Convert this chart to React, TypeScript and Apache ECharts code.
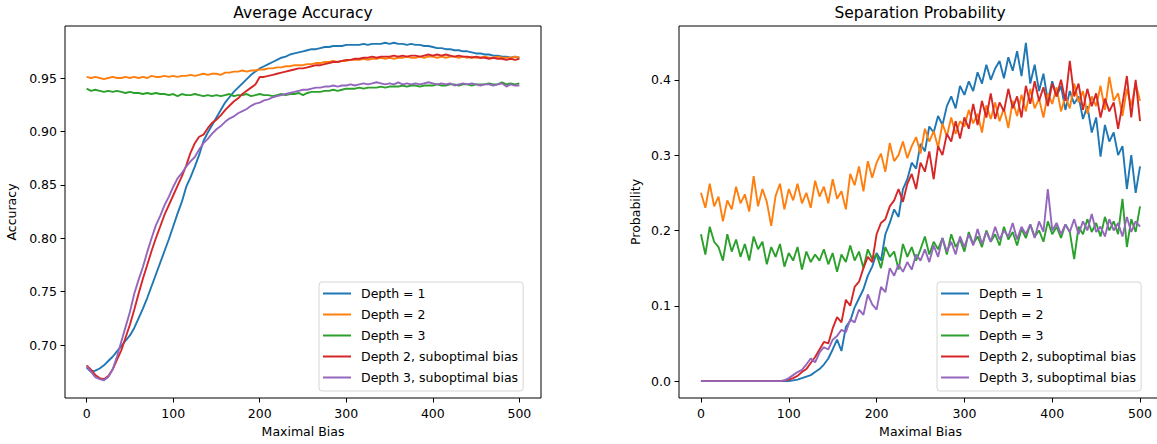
import React, { useEffect, useRef } from "react";
import * as echarts from "echarts";

const maximalBias = [
  0, 5, 10, 15, 20, 25, 30, 35, 40, 45,
  50, 55, 60, 65, 70, 75, 80, 85, 90, 95,
  100, 105, 110, 115, 120, 125, 130, 135, 140, 145,
  150, 155, 160, 165, 170, 175, 180, 185, 190, 195,
  200, 205, 210, 215, 220, 225, 230, 235, 240, 245,
  250, 255, 260, 265, 270, 275, 280, 285, 290, 295,
  300, 305, 310, 315, 320, 325, 330, 335, 340, 345,
  350, 355, 360, 365, 370, 375, 380, 385, 390, 395,
  400, 405, 410, 415, 420, 425, 430, 435, 440, 445,
  450, 455, 460, 465, 470, 475, 480, 485, 490, 495,
  500,
];

const seriesNames = [
  "Depth = 1",
  "Depth = 2",
  "Depth = 3",
  "Depth 2, suboptimal bias",
  "Depth 3, suboptimal bias",
];
const palette = ["#1f77b4", "#ff7f0e", "#2ca02c", "#d62728", "#9467bd"];

const xTicks = [0, 100, 200, 300, 400, 500];
const accuracyTicks = [0.7, 0.75, 0.8, 0.85, 0.9, 0.95];
const probabilityTicks = [0, 0.1, 0.2, 0.3, 0.4];

// ---------- Average Accuracy ----------
const accDepth1 = [
  0.679, 0.675, 0.676, 0.678, 0.681, 0.685, 0.689, 0.694, 0.699, 0.704,
  0.709, 0.716, 0.725, 0.734, 0.744, 0.755, 0.766, 0.777, 0.788, 0.799,
  0.811, 0.823, 0.834, 0.848, 0.857, 0.867, 0.878, 0.891, 0.899, 0.906,
  0.913, 0.92, 0.927, 0.932, 0.937, 0.941, 0.945, 0.949, 0.953, 0.956,
  0.959, 0.961, 0.963, 0.965, 0.967, 0.969, 0.97, 0.972, 0.973, 0.974,
  0.975, 0.976, 0.977, 0.977, 0.978, 0.979, 0.979, 0.98, 0.98, 0.98,
  0.981, 0.981, 0.981, 0.981, 0.982, 0.981, 0.982, 0.982, 0.982, 0.983,
  0.982, 0.983, 0.982, 0.982, 0.981, 0.982, 0.981, 0.981, 0.98, 0.98,
  0.979, 0.978, 0.978, 0.977, 0.977, 0.976, 0.976, 0.975, 0.975, 0.974,
  0.973, 0.973, 0.972, 0.972, 0.971, 0.971, 0.97, 0.97, 0.969, 0.97,
  0.969,
];
const accDepth2 = [
  0.951, 0.95, 0.951, 0.95, 0.949, 0.95, 0.951, 0.95, 0.95, 0.951,
  0.95, 0.951, 0.95, 0.951, 0.95, 0.952, 0.951, 0.951, 0.952, 0.951,
  0.952, 0.951, 0.952, 0.952, 0.953, 0.952, 0.953, 0.954, 0.953, 0.954,
  0.954, 0.953, 0.955, 0.955, 0.956, 0.956, 0.957, 0.956, 0.957, 0.957,
  0.958, 0.958, 0.959, 0.959, 0.96, 0.96, 0.961, 0.961, 0.962, 0.962,
  0.962, 0.963, 0.963, 0.964, 0.964, 0.965, 0.965, 0.966, 0.965, 0.966,
  0.966, 0.967, 0.967, 0.967, 0.968, 0.967, 0.968, 0.968, 0.969, 0.968,
  0.969, 0.968, 0.969, 0.969, 0.97, 0.969, 0.969, 0.97, 0.969, 0.97,
  0.97, 0.969, 0.97, 0.969, 0.97, 0.97, 0.969, 0.97, 0.969, 0.97,
  0.969, 0.969, 0.97, 0.969, 0.969, 0.97, 0.969, 0.969, 0.969, 0.97,
  0.969,
];
const accDepth3 = [
  0.94, 0.938, 0.939, 0.938, 0.937, 0.938, 0.937, 0.938, 0.937, 0.936,
  0.937, 0.936, 0.936, 0.935, 0.936, 0.935, 0.936, 0.935, 0.935, 0.934,
  0.935, 0.933, 0.935, 0.934, 0.934, 0.935, 0.934, 0.933, 0.934, 0.933,
  0.934, 0.933, 0.934, 0.935, 0.933, 0.934, 0.934, 0.935, 0.933, 0.934,
  0.935, 0.934, 0.934, 0.933, 0.934, 0.935, 0.934, 0.935, 0.935, 0.936,
  0.934, 0.936, 0.937, 0.937, 0.937, 0.938, 0.938, 0.939, 0.938, 0.939,
  0.94, 0.94, 0.94, 0.941, 0.94, 0.941, 0.941, 0.941, 0.942, 0.941,
  0.942, 0.942, 0.942, 0.943, 0.942, 0.943, 0.943, 0.942, 0.943, 0.943,
  0.943, 0.944, 0.943, 0.943, 0.944, 0.944, 0.943, 0.944, 0.944, 0.943,
  0.944, 0.944, 0.944, 0.945, 0.944, 0.944, 0.946, 0.944, 0.945, 0.944,
  0.945,
];
const accDepth2Sub = [
  0.681, 0.677, 0.672, 0.669, 0.668, 0.671, 0.677, 0.686, 0.695, 0.707,
  0.719, 0.733, 0.748, 0.762, 0.775, 0.788, 0.8, 0.811, 0.822, 0.831,
  0.84, 0.849, 0.858, 0.868, 0.88, 0.889, 0.895, 0.897, 0.903, 0.908,
  0.911, 0.915, 0.92, 0.924, 0.928, 0.931, 0.935, 0.938, 0.941, 0.944,
  0.951, 0.951, 0.952, 0.953, 0.954, 0.955, 0.956, 0.957, 0.958, 0.959,
  0.959, 0.96, 0.961, 0.962, 0.962, 0.963, 0.964, 0.965, 0.965, 0.966,
  0.967, 0.967, 0.968, 0.968, 0.969, 0.969, 0.97, 0.969, 0.97, 0.97,
  0.97, 0.971, 0.97, 0.971, 0.97, 0.971, 0.971, 0.97, 0.971, 0.972,
  0.971, 0.972, 0.971, 0.972, 0.971, 0.97, 0.971, 0.97, 0.97, 0.969,
  0.97, 0.969, 0.969, 0.968, 0.969, 0.968, 0.968, 0.967, 0.968, 0.967,
  0.968,
];
const accDepth3Sub = [
  0.68, 0.675, 0.67, 0.668, 0.667, 0.67, 0.677, 0.689, 0.703, 0.717,
  0.731, 0.748, 0.761, 0.773, 0.787, 0.8, 0.812, 0.821, 0.831, 0.839,
  0.848, 0.856, 0.861, 0.867, 0.872, 0.876, 0.883, 0.889, 0.893, 0.898,
  0.902, 0.905, 0.909, 0.912, 0.914, 0.917, 0.919, 0.921, 0.924, 0.926,
  0.927, 0.929, 0.93, 0.932, 0.933, 0.934, 0.935, 0.936, 0.937, 0.938,
  0.939, 0.939, 0.94, 0.941, 0.941, 0.942, 0.942, 0.943, 0.942, 0.943,
  0.943, 0.944, 0.943, 0.944, 0.945, 0.944, 0.945, 0.946, 0.945, 0.944,
  0.945, 0.944, 0.946, 0.944, 0.945, 0.944, 0.945, 0.944, 0.945, 0.946,
  0.945, 0.944, 0.945, 0.944, 0.945, 0.943, 0.944, 0.945, 0.944, 0.945,
  0.944, 0.943, 0.944, 0.944, 0.943, 0.944, 0.945, 0.942, 0.944, 0.943,
  0.943,
];

// ---------- Separation Probability ----------
const sepDepth1 = [
  0, 0, 0, 0, 0, 0, 0, 0, 0, 0,
  0, 0, 0, 0, 0, 0, 0, 0, 0, 0,
  0, 0.001, 0.002, 0.004, 0.006, 0.008, 0.012, 0.016, 0.022, 0.03,
  0.042, 0.055, 0.04, 0.072, 0.08, 0.098, 0.11, 0.122, 0.14, 0.152,
  0.17, 0.16, 0.195, 0.21, 0.228, 0.218, 0.255, 0.268, 0.29, 0.282,
  0.315, 0.305, 0.338, 0.33, 0.352, 0.34, 0.365, 0.378, 0.362, 0.392,
  0.38, 0.398, 0.385, 0.41, 0.395, 0.42, 0.4, 0.415, 0.425, 0.402,
  0.43, 0.412, 0.438, 0.405, 0.449, 0.395, 0.42, 0.385, 0.408, 0.372,
  0.398, 0.378, 0.392, 0.36, 0.385, 0.368, 0.378, 0.348, 0.365, 0.33,
  0.35, 0.298, 0.34, 0.318, 0.33, 0.3, 0.312, 0.255, 0.3, 0.25,
  0.285,
];
const sepDepth2 = [
  0.25, 0.23, 0.262, 0.232, 0.245, 0.212, 0.24, 0.228, 0.258, 0.236,
  0.248, 0.225, 0.272, 0.232, 0.255, 0.238, 0.206, 0.246, 0.262, 0.228,
  0.255, 0.24, 0.262, 0.236, 0.25, 0.23, 0.266, 0.245, 0.258, 0.236,
  0.268, 0.242, 0.252, 0.228, 0.275, 0.26, 0.285, 0.252, 0.292, 0.27,
  0.29, 0.302, 0.278, 0.316, 0.292, 0.3, 0.318, 0.296, 0.312, 0.324,
  0.302, 0.335, 0.318, 0.332, 0.31, 0.342, 0.325, 0.35, 0.328, 0.345,
  0.338, 0.36, 0.342, 0.355, 0.33, 0.366, 0.348, 0.37, 0.345, 0.362,
  0.336, 0.372, 0.352, 0.38, 0.358, 0.388, 0.362, 0.375, 0.35, 0.382,
  0.368, 0.39, 0.358, 0.378, 0.362, 0.395, 0.37, 0.385, 0.355, 0.378,
  0.365, 0.392, 0.36, 0.404, 0.372, 0.382, 0.352, 0.388, 0.365, 0.395,
  0.372,
];
const sepDepth3 = [
  0.195, 0.168, 0.205, 0.185, 0.178, 0.16, 0.195, 0.172, 0.188, 0.165,
  0.182, 0.16, 0.192, 0.175, 0.185, 0.155, 0.178, 0.165, 0.182, 0.152,
  0.17, 0.16, 0.178, 0.148, 0.172, 0.158, 0.168, 0.16, 0.175, 0.155,
  0.17, 0.145, 0.168, 0.158, 0.18, 0.16, 0.172, 0.15, 0.175, 0.162,
  0.168, 0.15, 0.178, 0.165, 0.172, 0.148, 0.182, 0.165, 0.178, 0.16,
  0.175, 0.192, 0.168, 0.185, 0.175, 0.19, 0.168, 0.195, 0.178, 0.188,
  0.172, 0.198, 0.182, 0.192, 0.178, 0.2, 0.185, 0.195, 0.18, 0.205,
  0.188, 0.198, 0.18, 0.202, 0.19, 0.208, 0.192, 0.2, 0.185, 0.212,
  0.195, 0.205, 0.19, 0.208, 0.198, 0.162, 0.205, 0.195, 0.215, 0.198,
  0.21, 0.192, 0.218, 0.2, 0.212, 0.195, 0.242, 0.178, 0.215, 0.198,
  0.232,
];
const sepDepth2Sub = [
  0, 0, 0, 0, 0, 0, 0, 0, 0, 0,
  0, 0, 0, 0, 0, 0, 0, 0, 0, 0.001,
  0.002, 0.004, 0.007, 0.012, 0.016, 0.024, 0.032, 0.042, 0.052, 0.05,
  0.07, 0.085, 0.078, 0.108, 0.1, 0.125, 0.132, 0.15, 0.165, 0.158,
  0.195, 0.21, 0.215, 0.232, 0.24, 0.255, 0.238, 0.262, 0.275, 0.255,
  0.29, 0.278, 0.305, 0.268, 0.312, 0.3, 0.328, 0.318, 0.345, 0.322,
  0.35, 0.335, 0.368, 0.34, 0.372, 0.35, 0.382, 0.348, 0.37, 0.358,
  0.388, 0.362, 0.378, 0.35, 0.392, 0.368, 0.398, 0.372, 0.39, 0.365,
  0.395, 0.378, 0.4, 0.372, 0.425, 0.378, 0.395, 0.36, 0.388, 0.365,
  0.382, 0.35, 0.375, 0.358, 0.37, 0.335, 0.368, 0.405, 0.35, 0.4,
  0.345,
];
const sepDepth3Sub = [
  0, 0, 0, 0, 0, 0, 0, 0, 0, 0,
  0, 0, 0, 0, 0, 0, 0, 0, 0, 0.001,
  0.004, 0.008, 0.012, 0.015, 0.022, 0.03, 0.025, 0.038, 0.045, 0.042,
  0.055, 0.06, 0.068, 0.065, 0.082, 0.078, 0.095, 0.088, 0.115, 0.102,
  0.095, 0.125, 0.118, 0.15, 0.14, 0.155, 0.145, 0.158, 0.148, 0.168,
  0.16, 0.175, 0.158, 0.18, 0.165, 0.19, 0.172, 0.185, 0.168, 0.192,
  0.178, 0.195, 0.18, 0.202, 0.182, 0.198, 0.185, 0.205, 0.188, 0.2,
  0.192, 0.21, 0.188, 0.205, 0.195, 0.208, 0.19, 0.212, 0.198, 0.255,
  0.2, 0.21, 0.195, 0.208, 0.198, 0.215, 0.195, 0.212, 0.2, 0.222,
  0.198, 0.205, 0.192, 0.215, 0.2, 0.21, 0.192, 0.218, 0.198, 0.212,
  0.205,
];

const accuracySeries = [accDepth1, accDepth2, accDepth3, accDepth2Sub, accDepth3Sub];
const probabilitySeries = [sepDepth1, sepDepth2, sepDepth3, sepDepth2Sub, sepDepth3Sub];

const FONT = "DejaVu Sans";
const TXT = "#000";

const pairs = (ys: number[]) => maximalBias.map((x, i) => [x, ys[i]]);

function buildOption() {
  const xAxisFor = (gridIndex: number) => ({
    type: "value",
    gridIndex,
    min: -25,
    max: 525,
    position: "bottom",
    axisLine: { show: false, onZero: false },
    splitLine: { show: false },
    axisTick: {
      show: true,
      customValues: xTicks,
      length: 4.5,
      lineStyle: { color: "#000", width: 1 },
    },
    axisLabel: {
      customValues: xTicks,
      margin: 9,
      fontFamily: FONT,
      fontSize: 12.5,
      color: TXT,
    },
    name: "Maximal Bias",
    nameLocation: "middle",
    nameGap: 27,
    nameTextStyle: { fontFamily: FONT, fontSize: 12.5, color: TXT },
  });

  const yAxisFor = (
    gridIndex: number,
    min: number,
    max: number,
    ticks: number[],
    digits: number,
    name: string,
    nameGap: number
  ) => ({
    type: "value",
    gridIndex,
    min,
    max,
    position: "left",
    axisLine: { show: false, onZero: false },
    splitLine: { show: false },
    axisTick: {
      show: true,
      customValues: ticks,
      length: 4.5,
      lineStyle: { color: "#000", width: 1 },
    },
    axisLabel: {
      customValues: ticks,
      margin: 8,
      fontFamily: FONT,
      fontSize: 12.5,
      color: TXT,
      formatter: (v: number) => v.toFixed(digits),
    },
    name,
    nameLocation: "middle",
    nameGap,
    nameTextStyle: { fontFamily: FONT, fontSize: 12.5, color: TXT },
  });

  const legendFor = (left: number) => ({
    data: seriesNames,
    orient: "vertical",
    left,
    top: 282,
    icon: "rect",
    itemWidth: 28,
    itemHeight: 2,
    itemGap: 6,
    padding: [4, 5, 6, 4],
    borderColor: "#d6d6d6",
    borderWidth: 1,
    borderRadius: 3,
    backgroundColor: "rgba(255,255,255,0.8)",
    selectedMode: false,
    textStyle: {
      fontFamily: FONT,
      fontSize: 12.5,
      color: TXT,
      lineHeight: 15,
      padding: [0, 0, 0, 5],
    },
  });

  const series: any[] = [];
  accuracySeries.forEach((ys, i) => {
    series.push({
      type: "line",
      name: seriesNames[i],
      xAxisIndex: 0,
      yAxisIndex: 0,
      data: pairs(ys),
      showSymbol: false,
      symbol: "none",
      lineStyle: { color: palette[i], width: 1.9 },
      itemStyle: { color: palette[i] },
      emphasis: { disabled: true },
    });
  });
  probabilitySeries.forEach((ys, i) => {
    series.push({
      type: "line",
      name: seriesNames[i],
      xAxisIndex: 1,
      yAxisIndex: 1,
      data: pairs(ys),
      showSymbol: false,
      symbol: "none",
      lineStyle: { color: palette[i], width: 1.9 },
      itemStyle: { color: palette[i] },
      emphasis: { disabled: true },
    });
  });

  return {
    animation: false,
    color: palette,
    textStyle: { fontFamily: FONT },
    grid: [
      { left: 65, top: 26, width: 476, height: 372, show: true, borderColor: "#000", borderWidth: 1, backgroundColor: "transparent" },
      { left: 679, top: 26, width: 483, height: 372, show: true, borderColor: "#000", borderWidth: 1, backgroundColor: "transparent" },
    ],
    xAxis: [xAxisFor(0), xAxisFor(1)],
    yAxis: [
      yAxisFor(0, 0.6504, 0.9987, accuracyTicks, 2, "Accuracy", 47),
      yAxisFor(1, -0.0224, 0.4714, probabilityTicks, 1, "Probability", 37),
    ],
    legend: [legendFor(319), legendFor(937)],
    graphic: [
      {
        type: "text",
        x: 303,
        y: 13,
        style: {
          text: "Average Accuracy",
          font: `15.5px "${FONT}"`,
          fill: TXT,
          textAlign: "center",
          textVerticalAlign: "middle",
          align: "center",
          verticalAlign: "middle",
        },
      },
      {
        type: "text",
        x: 920,
        y: 13,
        style: {
          text: "Separation Probability",
          font: `15.5px "${FONT}"`,
          fill: TXT,
          textAlign: "center",
          textVerticalAlign: "middle",
          align: "center",
          verticalAlign: "middle",
        },
      },
    ],
    series,
  };
}

export default function App() {
  const ref = useRef<HTMLDivElement>(null);
  useEffect(() => {
    if (!ref.current) return;
    const chart = echarts.init(ref.current, undefined, { renderer: "svg" });
    chart.setOption(buildOption() as any);
    return () => chart.dispose();
  }, []);
  return (
    <div
      style={{
        position: "fixed",
        left: 0,
        top: 0,
        width: 1157,
        height: 444,
        overflow: "hidden",
        background: "#fff",
      }}
    >
      <div ref={ref} style={{ width: 1170, height: 444 }} />
    </div>
  );
}
